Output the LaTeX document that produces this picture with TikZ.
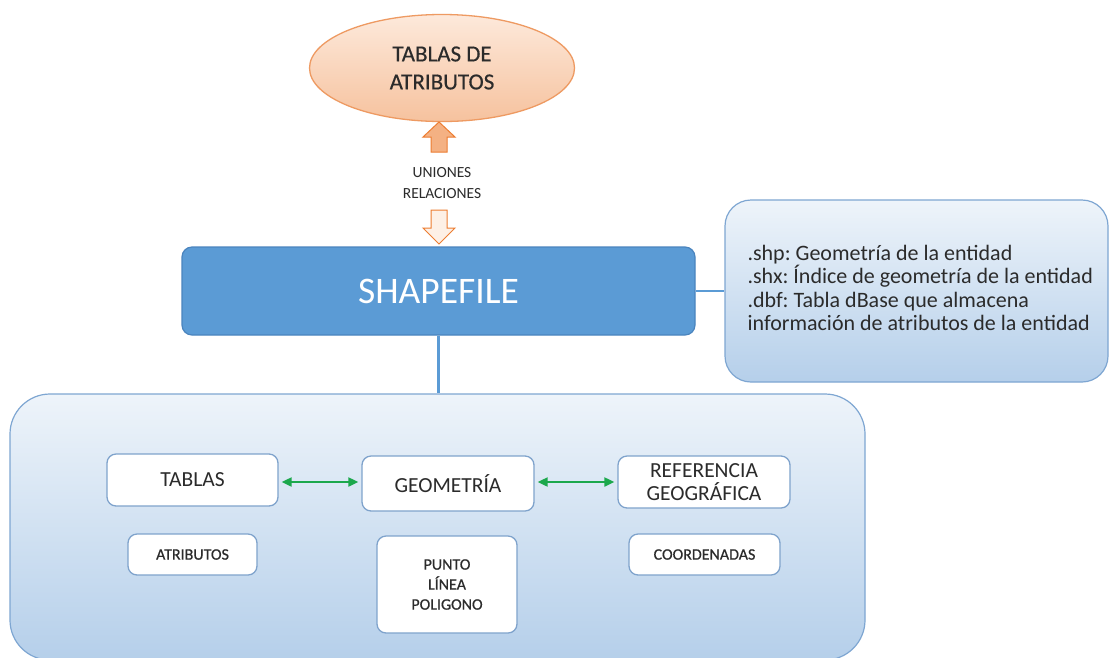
\documentclass[tikz,border=0pt]{standalone}
\usepackage{fontspec}
\setmainfont{Carlito}
\usetikzlibrary{arrows.meta,shapes.geometric}

\definecolor{inktext}{HTML}{2B2B2B}
\definecolor{shpfill}{HTML}{5B9BD5}
\definecolor{shpline}{HTML}{4A84BE}
\definecolor{paneltop}{HTML}{EEF4FA}
\definecolor{panelbot}{HTML}{B5CFEA}
\definecolor{panelline}{HTML}{7EA6D2}
\definecolor{boxline}{HTML}{7FA3CC}
\definecolor{ovaltop}{HTML}{FDE9DB}
\definecolor{ovalbot}{HTML}{F6C29E}
\definecolor{ovalline}{HTML}{EE9A62}
\definecolor{arrowfill}{HTML}{F4B183}
\definecolor{arrowline}{HTML}{ED7D31}
\definecolor{hollowfill}{HTML}{FDF0E6}
\definecolor{linkgreen}{HTML}{1CA84C}

\begin{document}
\frenchspacing
\begin{tikzpicture}[x=1pt,y=-1pt,
  panel/.style={draw=panelline, line width=1.2pt, top color=paneltop, bottom color=panelbot, inner sep=0pt},
  itembox/.style={draw=boxline, line width=1.3pt, fill=white, rounded corners=9pt, inner sep=0pt,
    text=inktext, align=center},
  bigtext/.style={font=\fontsize{21.5}{25}\selectfont},
  smalltext/.style={font=\fontsize{16}{20}\selectfont\addfontfeatures{FakeBold=0.6}},
  bluelink/.style={draw=shpfill, line width=2.2pt},
  dbllink/.style={draw=linkgreen, line width=2pt, {Triangle[length=10pt,width=9pt]}-{Triangle[length=10pt,width=9pt]}, shorten <=3pt, shorten >=3pt},
]
\useasboundingbox[fill=white] (0,0) rectangle (1110,657);

% attribute tables (top)
\node[ellipse, draw=ovalline, line width=1.3pt, top color=ovaltop, bottom color=ovalbot,
      minimum width=265, minimum height=107, inner sep=0pt, text=inktext, align=center,
      font=\fontsize{23}{28}\selectfont\addfontfeatures{FakeBold=0.4}] (tablasattr) at (442,68) {TABLAS DE\\ATRIBUTOS};

% joins / relations label
\node[text=inktext, align=center, font=\fontsize{15.5}{21}\selectfont] (uniones) at (442,183)
  {UNIONES\\RELACIONES};

% central shapefile block
\node[draw=shpline, line width=1.2pt, fill=shpfill, rounded corners=10pt,
      minimum width=513, minimum height=88, inner sep=0pt, text=white,
      font=\fontsize{37.5}{40}\selectfont] (shapefile) at (438.5,291) {SHAPEFILE};

% block arrows between the oval and the shapefile block
\coordinate (uptip) at (439,122);
\coordinate (downtip) at (439,244);
\filldraw[fill=arrowfill, draw=arrowline, line width=1pt]
  (uptip) -- ++(16,15) -- ++(-8,0) -- ++(0,15) -- ++(-16,0) -- ++(0,-15) -- ++(-8,0) -- cycle;
\filldraw[fill=hollowfill, draw=arrowline, line width=1pt]
  (downtip) -- ++(16,-16) -- ++(-8,0) -- ++(0,-18) -- ++(-16,0) -- ++(0,18) -- ++(-8,0) -- cycle;

% file list panel
\node[panel, rounded corners=26pt, minimum width=383, minimum height=182] (files) at (916.5,291) {};
\node[anchor=west, align=left, text=inktext, font=\fontsize{22}{23.3}\selectfont] (filetext) at (744,288)
  {.shp: Geometría de la entidad\\
   .shx: Índice de geometría de la entidad\\
   .dbf: Tabla dBase que almacena\\
   información de atributos de la entidad};

% components panel
\node[panel, rounded corners=40pt, minimum width=855, minimum height=266] (components) at (437.5,527) {};

% connectors from the shapefile block
\draw[bluelink] (shapefile.east) -- (shapefile.east -| files.west);
\draw[bluelink] (shapefile.south) -- (shapefile.south |- components.north);

% component boxes
\node[itembox, bigtext, minimum width=171, minimum height=52] (tablas) at (192.5,480) {TABLAS};
\node[itembox, bigtext, minimum width=172, minimum height=55] (geometria) at (448,483.5) {GEOMETRÍA};
\node[itembox, bigtext, minimum width=172, minimum height=52] (referencia) at (704,482) {REFERENCIA\\[-2pt]GEOGRÁFICA};

\node[itembox, smalltext, minimum width=129, minimum height=41] (atributos) at (192.5,554.5) {ATRIBUTOS};
\node[itembox, smalltext, minimum width=140, minimum height=97] (tipos) at (447,584.5) {PUNTO\\LÍNEA\\POLIGONO};
\node[itembox, smalltext, minimum width=151, minimum height=41] (coordenadas) at (704.5,554.5) {COORDENADAS};

% two-way links between components
\draw[dbllink] (tablas.east |- 0,482) -- (geometria.west |- 0,482);
\draw[dbllink] (geometria.east |- 0,482) -- (referencia.west |- 0,482);
\end{tikzpicture}
\end{document}
